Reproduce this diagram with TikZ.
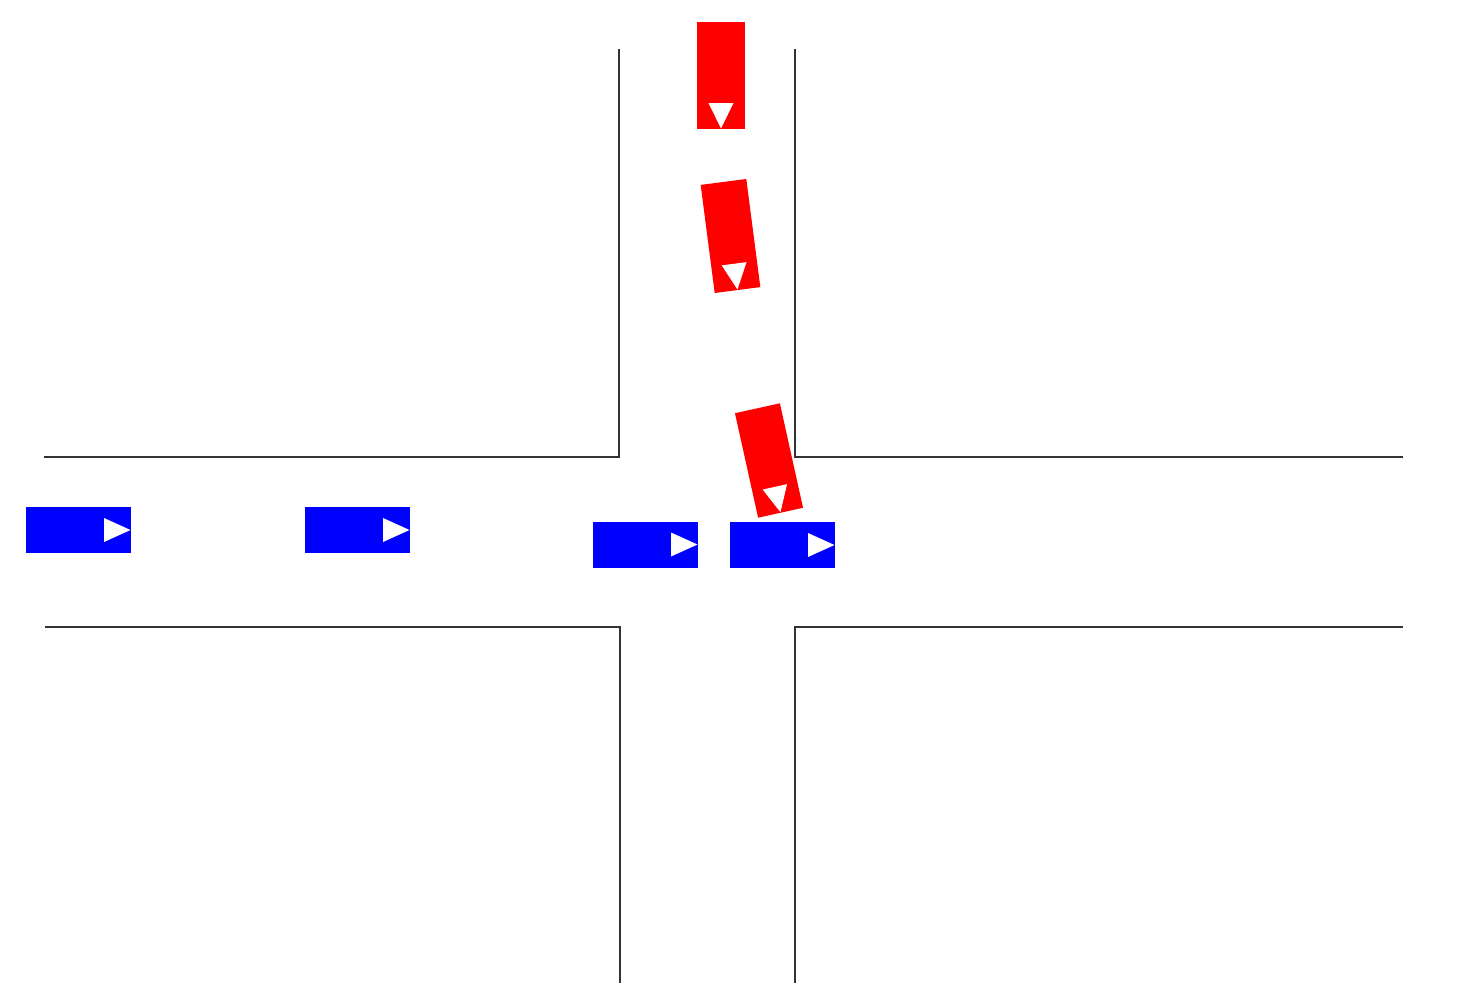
\documentclass[tikz,border=0pt]{standalone}
\begin{document}
\begin{tikzpicture}[x=1pt,y=-1pt,
  road/.style={draw=black!80, line width=1.3pt},
  redcar/.style={fill=red, draw=none, minimum width=48pt, minimum height=107pt, inner sep=0pt, transform shape},
  bluecar/.style={fill=blue, draw=none, minimum width=105pt, minimum height=46pt, inner sep=0pt, transform shape},
  arrowtri/.style={fill=white}]
\useasboundingbox (0,0) rectangle (1464,990);
% road edges
\coordinate (a1) at (619,49); \coordinate (a2) at (619,457); \coordinate (a3) at (44,457);
\coordinate (b1) at (795,49); \coordinate (b2) at (795,457); \coordinate (b3) at (1403,457);
\coordinate (c1) at (45,627); \coordinate (c2) at (620,627); \coordinate (c3) at (620,983);
\coordinate (d1) at (1403,627); \coordinate (d2) at (795,627); \coordinate (d3) at (795,983);
\draw[road] (a1) -- (a2) -- (a3);
\draw[road] (b1) -- (b2) -- (b3);
\draw[road] (c1) -- (c2) -- (c3);
\draw[road] (d1) -- (d2) -- (d3);
% red cars
\begin{scope}[shift={(721,75.5)}]
  \node[redcar] (r1) at (0,0) {};
  \fill[arrowtri] (-12.5,27.5) -- (12.5,27.5) -- (0,53) -- cycle;
\end{scope}
\begin{scope}[shift={(730.5,236)},rotate=7.4]
  \node[redcar, minimum width=46pt, minimum height=109pt] (r2) at (0,0) {};
  \fill[arrowtri] (-12.5,28) -- (12.5,28) -- (0,54) -- cycle;
\end{scope}
\begin{scope}[shift={(769,460.5)},rotate=12.5]
  \node[redcar, minimum width=46pt, minimum height=107pt] (r3) at (0,0) {};
  \fill[arrowtri] (-12.5,27) -- (12.5,27) -- (0,53) -- cycle;
\end{scope}
% blue cars
\begin{scope}[shift={(78.5,530)}]
  \node[bluecar] (bl1) at (0,0) {};
  \fill[arrowtri] (25.5,-12) -- (25.5,12) -- (52,0) -- cycle;
\end{scope}
\begin{scope}[shift={(357.5,530)}]
  \node[bluecar] (bl2) at (0,0) {};
  \fill[arrowtri] (25.5,-12) -- (25.5,12) -- (52,0) -- cycle;
\end{scope}
\begin{scope}[shift={(645.5,544.5)}]
  \node[bluecar] (bl3) at (0,0) {};
  \fill[arrowtri] (25.5,-12) -- (25.5,12) -- (52,0) -- cycle;
\end{scope}
\begin{scope}[shift={(782.5,545)}]
  \node[bluecar] (bl4) at (0,0) {};
  \fill[arrowtri] (25.5,-12) -- (25.5,12) -- (52,0) -- cycle;
\end{scope}
\end{tikzpicture}
\end{document}
